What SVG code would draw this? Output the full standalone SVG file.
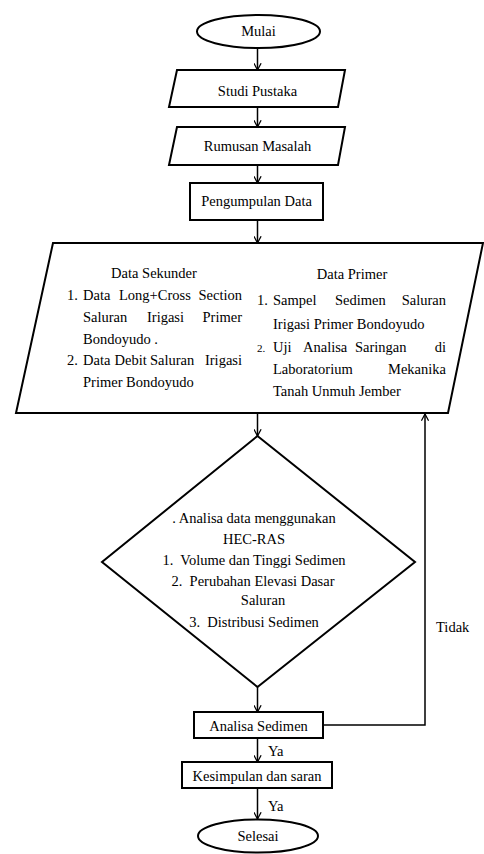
<svg xmlns="http://www.w3.org/2000/svg" width="484" height="854" viewBox="0 0 484 854">
<defs>
<marker id="arr" viewBox="0 0 10 10" refX="9.5" refY="5" markerWidth="8" markerHeight="8" markerUnits="userSpaceOnUse" orient="auto">
<path d="M1,0.5 L9.5,5 L1,9.5" fill="none" stroke="#000" stroke-width="1.6"/>
</marker>
<style>
.sh{fill:#fff;stroke:#000;stroke-width:2}
.cn{fill:none;stroke:#000;stroke-width:1.5}
.t{font-family:"Liberation Serif","DejaVu Serif",serif;font-size:14.5px;fill:#000}
.c{text-anchor:middle}
.e{text-anchor:end}
.sm{font-size:11px}
</style>
</defs>
<rect width="484" height="854" fill="#fff"/>
<g id="connectors">
<line class="cn" x1="257.5" y1="48" x2="257.5" y2="70" marker-end="url(#arr)"/>
<line class="cn" x1="257.5" y1="107" x2="257.5" y2="127" marker-end="url(#arr)"/>
<line class="cn" x1="257.5" y1="165" x2="257.5" y2="183" marker-end="url(#arr)"/>
<line class="cn" x1="257.5" y1="220" x2="257.5" y2="243" marker-end="url(#arr)"/>
<line class="cn" x1="257.5" y1="413" x2="257.5" y2="436" marker-end="url(#arr)"/>
<line class="cn" x1="257.5" y1="687" x2="257.5" y2="712" marker-end="url(#arr)"/>
<line class="cn" x1="257.5" y1="738" x2="257.5" y2="762" marker-end="url(#arr)"/>
<line class="cn" x1="257.5" y1="788" x2="257.5" y2="819" marker-end="url(#arr)"/>
<polyline class="cn" points="323,725 425,725 425,414" marker-end="url(#arr)"/>
<text class="t" x="436" y="632">Tidak</text>
<text class="t" x="268" y="756">Ya</text>
<text class="t" x="268" y="811">Ya</text>
</g>
<g id="mulai">
<ellipse class="sh" cx="258.5" cy="31.5" rx="61.5" ry="16.5"/>
<text class="t c" x="258.5" y="36">Mulai</text>
</g>
<g id="studi">
<polygon class="sh" points="177,70 345,70 338,107 169,107"/>
<text class="t c" x="257.5" y="96">Studi Pustaka</text>
</g>
<g id="rumusan">
<polygon class="sh" points="177,127 345,127 338,165 169,165"/>
<text class="t c" x="257.5" y="151">Rumusan Masalah</text>
</g>
<g id="pengumpulan">
<rect class="sh" x="190" y="183" width="133" height="37"/>
<text class="t c" x="256.5" y="206">Pengumpulan Data</text>
</g>
<g id="data">
<polygon class="sh" points="53,243 483,243 448,413 16,413"/>
<text class="t c" x="154" y="278">Data Sekunder</text>
<text class="t" x="67" y="300">1.</text><text class="t" x="83" y="300">Data</text><text class="t" x="119" y="300">Long+Cross</text><text class="t e" x="242" y="300">Section</text>
<text class="t" x="83" y="322">Saluran</text><text class="t" x="147" y="322">Irigasi</text><text class="t e" x="242" y="322">Primer</text>
<text class="t" x="83" y="344">Bondoyudo .</text>
<text class="t" x="67" y="365">2.</text><text class="t" x="83" y="365">Data</text><text class="t" x="114.5" y="365">Debit</text><text class="t" x="150" y="365">Saluran</text><text class="t e" x="242" y="365">Irigasi</text>
<text class="t" x="83" y="387">Primer Bondoyudo</text>
<text class="t c" x="352" y="279">Data Primer</text>
<text class="t" x="257" y="305">1.</text><text class="t" x="273" y="305">Sampel</text><text class="t" x="335" y="305">Sedimen</text><text class="t e" x="446" y="305">Saluran</text>
<text class="t" x="273" y="329">Irigasi Primer Bondoyudo</text>
<text class="t sm" x="257" y="352">2.</text><text class="t" x="273" y="352">Uji</text><text class="t" x="303" y="352">Analisa</text><text class="t" x="355" y="352">Saringan</text><text class="t e" x="446" y="352">di</text>
<text class="t" x="273" y="374">Laboratorium</text><text class="t e" x="446" y="374">Mekanika</text>
<text class="t" x="273" y="396">Tanah Unmuh Jember</text>
</g>
<g id="analisa-data">
<polygon class="sh" points="257.5,436 415,562 257.5,687 102,562"/>
<text class="t c" x="254" y="523">. Analisa data menggunakan</text>
<text class="t c" x="254" y="544">HEC-RAS</text>
<text class="t c" x="254" y="565" xml:space="preserve">1.  Volume dan Tinggi Sedimen</text>
<text class="t c" x="253" y="586" xml:space="preserve">2.  Perubahan Elevasi Dasar</text>
<text class="t c" x="263" y="605">Saluran</text>
<text class="t c" x="254" y="627" xml:space="preserve">3.  Distribusi Sedimen</text>
</g>
<g id="analisa-sedimen">
<rect class="sh" x="194" y="712" width="129" height="26"/>
<text class="t c" x="258.5" y="731">Analisa Sedimen</text>
</g>
<g id="kesimpulan">
<rect class="sh" x="182" y="762" width="150" height="26"/>
<text class="t c" x="257" y="781">Kesimpulan dan saran</text>
</g>
<g id="selesai">
<ellipse class="sh" cx="258" cy="836" rx="60" ry="16.5"/>
<text class="t c" x="258" y="841">Selesai</text>
</g>
</svg>
